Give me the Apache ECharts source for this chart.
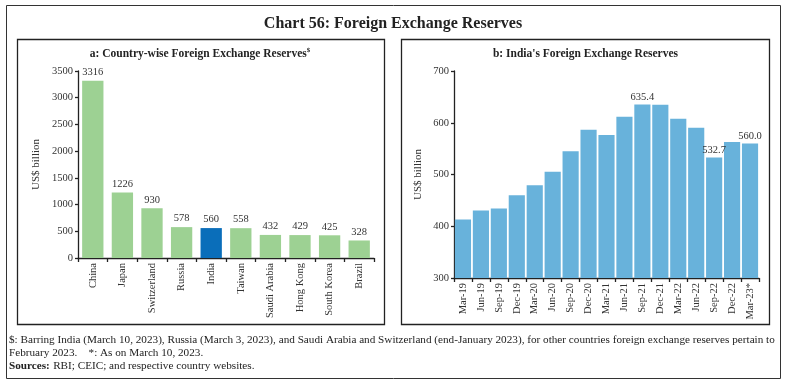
<!DOCTYPE html>
<html>
<head>
<meta charset="utf-8">
<script src="https://cdn.jsdelivr.net/npm/echarts@6/dist/echarts.min.js"></script>
<style>
html,body{margin:0;padding:0;background:#fff;}
#c{width:786px;height:385px;}
</style>
</head>
<body>
<div id="c"></div>
<script>
// Panel a: country-wise reserves (US$ billion)
var countries = ['China','Japan','Switzerland','Russia','India','Taiwan','Saudi Arabia','Hong Kong','South Korea','Brazil'];
var countryValues = [3316, 1226, 930, 578, 560, 558, 432, 429, 425, 328];
var countryTicks = [0, 500, 1000, 1500, 2000, 2500, 3000, 3500];

// Panel b: India's reserves (US$ billion)
var quarters = ['Mar-19','Jun-19','Sep-19','Dec-19','Mar-20','Jun-20','Sep-20','Dec-20','Mar-21','Jun-21','Sep-21','Dec-21','Mar-22','Jun-22','Sep-22','Dec-22','Mar-23*'];
var indiaValues = [413.0, 430.6, 434.5, 460.0, 479.0, 505.5, 545.0, 586.5, 576.5, 611.5, 635.4, 635.0, 607.5, 590.5, 532.7, 563.0, 560.0];
var labelledQuarters = ['Sep-21','Sep-22','Mar-23*'];
var indiaTicks = [300, 400, 500, 600, 700];

var FONT = '"Liberation Serif", "DejaVu Serif", serif';
var GREEN = '#9dd193', DARKBLUE = '#0a6eba', LIGHTBLUE = '#68b2db';
var AXIS = '#222';
var TXT = '#333';

var chart = echarts.init(document.getElementById('c'), null, {renderer:'canvas'});

var aData = countryValues.map(function(v, i){
  return {value: v, itemStyle: {color: countries[i] === 'India' ? DARKBLUE : GREEN}};
});
var bData = indiaValues.map(function(v, i){
  var show = labelledQuarters.indexOf(quarters[i]) >= 0;
  return {value: v, label: {show: show, formatter: function(p){ return p.value.toFixed(1); }}};
});

function yAxisCommon(ticks, gridIndex, gap){
  return {
    type: 'value', gridIndex: gridIndex, min: ticks[0], max: ticks[ticks.length - 1], interval: ticks[1] - ticks[0],
    name: 'US$ billion', nameLocation: 'middle', nameGap: gap,
    nameTextStyle: {fontFamily: FONT, fontSize: 11, color: TXT},
    axisLine: {show: true, lineStyle: {color: AXIS, width: 1.3}},
    axisTick: {show: true, length: 3, lineStyle: {color: AXIS, width: 1.3}},
    axisLabel: {fontFamily: FONT, fontSize: 10.5, color: TXT, margin: 5, formatter: function(v){ return String(v); }},
    splitLine: {show: false}
  };
}
function xAxisCommon(data, gridIndex){
  return {
    type: 'category', gridIndex: gridIndex, data: data,
    axisLine: {show: true, lineStyle: {color: AXIS, width: 1.3}},
    axisTick: {show: true, length: 4, alignWithLabel: false, lineStyle: {color: AXIS, width: 1.3}},
    axisLabel: {fontFamily: FONT, fontSize: 10.5, color: TXT, rotate: 90, margin: 5, interval: 0}
  };
}

chart.setOption({
  animation: false,
  grid: [
    {left: 78, right: 412, top: 71, bottom: 127},
    {left: 454, right: 27, top: 71, bottom: 107}
  ],
  xAxis: [xAxisCommon(countries, 0), xAxisCommon(quarters, 1)],
  yAxis: [yAxisCommon(countryTicks, 0, 36), yAxisCommon(indiaTicks, 1, 30)],
  series: [
    {type: 'bar', xAxisIndex: 0, yAxisIndex: 0, data: aData, barCategoryGap: '28%',
     label: {show: true, position: 'top', distance: 3, fontFamily: FONT, fontSize: 10.5, color: TXT}},
    {type: 'bar', xAxisIndex: 1, yAxisIndex: 1, data: bData, barCategoryGap: '10%',
     itemStyle: {color: LIGHTBLUE},
     label: {position: 'top', distance: 2, fontFamily: FONT, fontSize: 10.5, color: TXT}}
  ],
  graphic: [
    {type: 'rect', shape: {x: 6.5, y: 5.5, width: 774, height: 373}, style: {fill: 'none', stroke: '#333', lineWidth: 1}, silent: true},
    {type: 'rect', shape: {x: 17.5, y: 39.5, width: 367, height: 285}, style: {fill: 'none', stroke: '#222', lineWidth: 1.3}, silent: true},
    {type: 'rect', shape: {x: 401.5, y: 39.5, width: 368, height: 285}, style: {fill: 'none', stroke: '#222', lineWidth: 1.3}, silent: true},
    {type: 'text', x: 393, y: 24, style: {text: 'Chart 56: Foreign Exchange Reserves', font: 'bold 16px ' + FONT, fill: '#222', textAlign: 'center', textVerticalAlign: 'middle'}},
    {type: 'text', x: 200, y: 54, style: {
      text: '{t|a: Country-wise Foreign Exchange Reserves}{s|$}',
      textAlign: 'center', textVerticalAlign: 'middle',
      rich: {
        t: {fontFamily: FONT, fontWeight: 'bold', fontSize: 11.5, lineHeight: 14, fill: '#222', color: '#222'},
        s: {fontFamily: FONT, fontWeight: 'bold', fontSize: 7, verticalAlign: 'top', lineHeight: 8, fill: '#222', color: '#222'}
      }}},
    {type: 'text', x: 585.5, y: 54, style: {text: "b: India's Foreign Exchange Reserves", font: 'bold 11.5px ' + FONT, fill: '#222', textAlign: 'center', textVerticalAlign: 'middle'}},
    {type: 'text', x: 9, y: 340, style: {text: '$: Barring India (March 10, 2023), Russia (March 3, 2023), and Saudi Arabia and Switzerland (end-January 2023), for other countries foreign exchange reserves pertain to', font: '11.2px ' + FONT, fill: '#222', textVerticalAlign: 'middle'}},
    {type: 'text', x: 9, y: 353, style: {text: 'February 2023.    *: As on March 10, 2023.', font: '11.2px ' + FONT, fill: '#222', textVerticalAlign: 'middle'}},
    {type: 'text', x: 9, y: 366, style: {
      text: '{b|Sources:} {n|RBI; CEIC; and respective country websites.}',
      textVerticalAlign: 'middle',
      rich: {
        b: {fontFamily: FONT, fontWeight: 'bold', fontSize: 11.2, fill: '#222', color: '#222'},
        n: {fontFamily: FONT, fontSize: 11.2, fill: '#222', color: '#222'}
      }}}
  ]
});
</script>
</body>
</html>
